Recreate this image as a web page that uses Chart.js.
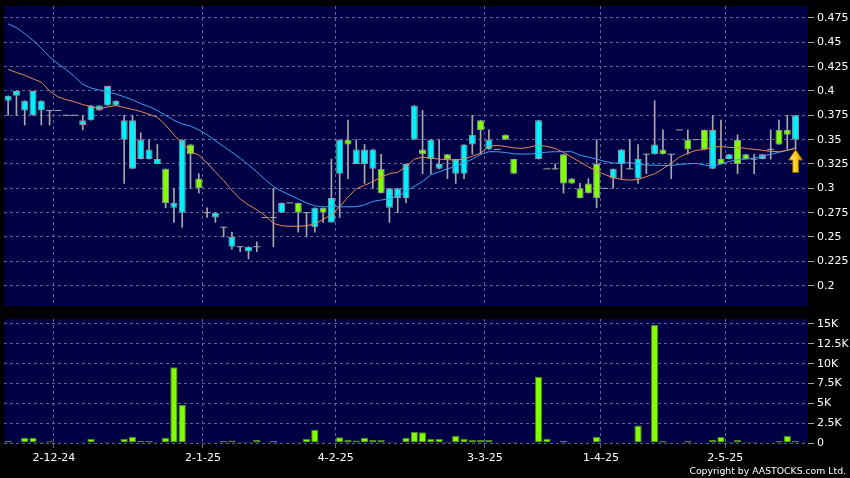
<!DOCTYPE html>
<html>
<head>
<meta charset="utf-8">
<script src="https://cdn.jsdelivr.net/npm/chart.js@4.4.1/dist/chart.umd.min.js"></script>
<style>
  html, body { margin: 0; padding: 0; background: #000; }
  #wrap { position: relative; width: 850px; height: 478px; overflow: hidden; background: #000; }
  #price { position: absolute; left: 0; top: 0; }
  #volume { position: absolute; left: 0; top: 310px; }
  #copy { position: absolute; right: 4px; top: 465px; color: #fff; font: 9.3px "DejaVu Sans", sans-serif; white-space: nowrap; }
</style>
</head>
<body>
<div id="wrap">
  <canvas id="price" width="850" height="310"></canvas>
  <canvas id="volume" width="850" height="168"></canvas>
  <div id="copy">Copyright by AASTOCKS.com Ltd.</div>
</div>
<script>
// 96 trading sessions, one empty slot at the right edge
const slotCount = 97;
const dateTicks = { 6: "2-12-24", 24: "2-1-25", 40: "4-2-25", 58: "3-3-25", 72: "1-4-25", 87: "2-5-25" };
const priceTicks = [0.2, 0.225, 0.25, 0.275, 0.3, 0.325, 0.35, 0.375, 0.4, 0.425, 0.45, 0.475];
const volumeTicks = [0, 2500, 5000, 7500, 10000, 12500, 15000];

const opens = [
  0.395, 0.40, 0.39, 0.40, 0.39, 0.38, 0.38, 0.375, 0.375, 0.37,
  0.385, 0.385, 0.405, 0.39, 0.37, 0.37, 0.35, 0.34, 0.33, 0.285,
  0.285, 0.35, 0.335, 0.30, 0.275, 0.275, 0.26, 0.25, 0.24, 0.24,
  0.24, 0.27, 0.27, 0.285, 0.285, 0.275, 0.275, 0.28, 0.275, 0.29,
  0.35, 0.345, 0.34, 0.34, 0.34, 0.295, 0.30, 0.30, 0.325, 0.385,
  0.335, 0.35, 0.325, 0.33, 0.33, 0.345, 0.355, 0.36, 0.35, 0.34,
  0.35, 0.315, null, null, 0.37, 0.32, 0.32, 0.305, 0.305, 0.29,
  0.295, 0.29, 0.30, 0.32, 0.34, 0.32, 0.33, 0.335, 0.345, 0.335,
  0.335, 0.36, 0.34, 0.35, 0.34, 0.36, 0.325, 0.335, 0.325, 0.33,
  0.33, 0.335, 0.34, 0.345, 0.355, 0.375
];
const highs = [
  0.395, 0.40, 0.39, 0.40, 0.39, 0.38, 0.38, 0.375, 0.375, 0.375,
  0.385, 0.385, 0.405, 0.39, 0.375, 0.375, 0.357, 0.35, 0.345, 0.32,
  0.30, 0.35, 0.345, 0.315, 0.28, 0.275, 0.26, 0.255, 0.24, 0.24,
  0.245, 0.27, 0.30, 0.285, 0.285, 0.285, 0.275, 0.28, 0.28, 0.33,
  0.35, 0.37, 0.35, 0.345, 0.34, 0.335, 0.30, 0.30, 0.325, 0.385,
  0.38, 0.35, 0.35, 0.335, 0.33, 0.345, 0.375, 0.37, 0.36, 0.34,
  0.355, 0.33, null, null, 0.37, 0.32, 0.325, 0.335, 0.31, 0.305,
  0.31, 0.35, 0.30, 0.32, 0.34, 0.35, 0.345, 0.335, 0.39, 0.36,
  0.335, 0.36, 0.36, 0.35, 0.36, 0.375, 0.37, 0.335, 0.355, 0.335,
  0.335, 0.335, 0.36, 0.37, 0.375, 0.375
];
const lows = [
  0.375, 0.375, 0.365, 0.375, 0.365, 0.365, 0.38, 0.375, 0.375, 0.36,
  0.37, 0.38, 0.385, 0.385, 0.305, 0.32, 0.33, 0.33, 0.325, 0.28,
  0.265, 0.26, 0.30, 0.295, 0.27, 0.265, 0.25, 0.2375, 0.235, 0.2275,
  0.235, 0.27, 0.24, 0.275, 0.285, 0.255, 0.25, 0.255, 0.265, 0.265,
  0.27, 0.31, 0.325, 0.305, 0.30, 0.295, 0.265, 0.275, 0.285, 0.35,
  0.315, 0.315, 0.32, 0.31, 0.305, 0.31, 0.335, 0.335, 0.34, 0.34,
  0.35, 0.315, null, null, 0.33, 0.32, 0.32, 0.295, 0.305, 0.29,
  0.295, 0.28, 0.30, 0.30, 0.31, 0.32, 0.305, 0.315, 0.335, 0.335,
  0.31, 0.36, 0.335, 0.35, 0.34, 0.32, 0.325, 0.33, 0.315, 0.33,
  0.315, 0.33, 0.33, 0.345, 0.34, 0.34
];
const closes = [
  0.39, 0.395, 0.38, 0.375, 0.38, 0.38, 0.38, 0.375, 0.375, 0.365,
  0.37, 0.38, 0.385, 0.385, 0.35, 0.32, 0.33, 0.33, 0.325, 0.32,
  0.28, 0.275, 0.345, 0.31, 0.275, 0.27, 0.26, 0.24, 0.24, 0.235,
  0.24, 0.27, 0.27, 0.275, 0.285, 0.285, 0.275, 0.26, 0.28, 0.265,
  0.315, 0.35, 0.325, 0.325, 0.32, 0.32, 0.28, 0.29, 0.29, 0.35,
  0.34, 0.33, 0.32, 0.335, 0.315, 0.315, 0.345, 0.37, 0.34, 0.34,
  0.355, 0.33, null, null, 0.33, 0.32, 0.32, 0.335, 0.31, 0.30,
  0.305, 0.325, 0.30, 0.31, 0.325, 0.32, 0.31, 0.335, 0.335, 0.34,
  0.335, 0.36, 0.35, 0.35, 0.36, 0.32, 0.33, 0.33, 0.35, 0.335,
  0.33, 0.33, 0.34, 0.36, 0.36, 0.35
];
const volumes = [
  290, 100, 670, 670, 170, 210, 0, 0, 0, 50,
  550, 40, 170, 40, 550, 750, 290, 250, 40, 670,
  9550, 4800, 80, 100, 80, 80, 290, 330, 120, 170,
  420, 0, 250, 80, 40, 120, 550, 1680, 40, 40,
  710, 420, 330, 670, 420, 420, 170, 40, 670, 1380,
  1360, 500, 500, 170, 920, 550, 380, 380, 380, 0,
  40, 120, 0, 0, 8340, 550, 0, 290, 40, 30,
  40, 750, 0, 40, 80, 80, 2200, 0, 14900, 250,
  0, 0, 290, 0, 50, 420, 750, 120, 380, 120,
  120, 80, 0, 250, 880, 250
];
// moving averages
const maShort = [
  0.422, 0.419, 0.416, 0.4125, 0.409, 0.400, 0.394, 0.391, 0.389, 0.386,
  0.384, 0.382, 0.3835, 0.385, 0.383, 0.381, 0.379, 0.376, 0.373, 0.365,
  0.355, 0.346, 0.338, 0.334, 0.326, 0.317, 0.308, 0.298, 0.289, 0.283,
  0.278, 0.272, 0.264, 0.2615, 0.261, 0.261, 0.2615, 0.2635, 0.268, 0.273,
  0.281, 0.291, 0.2995, 0.303, 0.307, 0.3115, 0.315, 0.3165, 0.322, 0.330,
  0.332, 0.331, 0.330, 0.3295, 0.329, 0.330, 0.333, 0.336, 0.3435, 0.344,
  0.343, 0.3415, 0.341, 0.3425, 0.3445, 0.343, 0.341, 0.337, 0.332, 0.327,
  0.322, 0.318, 0.314, 0.311, 0.309, 0.3085, 0.309, 0.312, 0.315, 0.320,
  0.326, 0.332, 0.336, 0.339, 0.340, 0.342, 0.343, 0.342, 0.342, 0.341,
  0.340, 0.339, 0.338, 0.3376, 0.339, 0.341
];
const maLong = [
  0.469, 0.465, 0.459, 0.452, 0.444, 0.435, 0.428, 0.422, 0.415, 0.407,
  0.403, 0.401, 0.399, 0.397, 0.394, 0.391, 0.387, 0.384, 0.380, 0.375,
  0.370, 0.366, 0.364, 0.360, 0.355, 0.349, 0.343, 0.337, 0.331, 0.324,
  0.317, 0.309, 0.302, 0.297, 0.293, 0.289, 0.285, 0.282, 0.281, 0.281,
  0.281, 0.281, 0.2812, 0.283, 0.2865, 0.288, 0.289, 0.292, 0.297, 0.302,
  0.307, 0.314, 0.317, 0.320, 0.3225, 0.326, 0.330, 0.335, 0.3376, 0.3376,
  0.3368, 0.3355, 0.3352, 0.3352, 0.336, 0.3372, 0.3376, 0.3376, 0.3376, 0.334,
  0.332, 0.330, 0.3275, 0.326, 0.3258, 0.3265, 0.325, 0.324, 0.3237, 0.3235,
  0.3233, 0.3245, 0.3252, 0.3256, 0.324, 0.3225, 0.325, 0.3275, 0.3295, 0.330,
  0.331, 0.333, 0.335, 0.337, 0.339, 0.3415
];
const signalIndex = 95;
const signalPrice = 0.328;

const labels = Array.from({ length: slotCount }, (_, i) => dateTicks[i] || "");

const UP = "#80ff00", DOWN = "#00f0ff";
const GRID = "#62629a";
const PLOT_BG = "#000044";

Chart.defaults.font.family = "DejaVu Sans";
Chart.defaults.font.size = 11;
Chart.defaults.color = "#ffffff";

const plotBg = {
  id: "plotBg",
  beforeDraw(chart) {
    const { ctx, chartArea: a } = chart;
    ctx.save();
    ctx.fillStyle = PLOT_BG;
    ctx.fillRect(a.left, a.top, a.right - a.left, a.bottom - a.top);
    ctx.restore();
  }
};

function makeArrow() {
  const c = document.createElement("canvas");
  c.width = 15; c.height = 24;
  const g = c.getContext("2d");
  const grad = g.createLinearGradient(0, 0, 15, 0);
  grad.addColorStop(0, "#fff3a0");
  grad.addColorStop(0.5, "#ffd21f");
  grad.addColorStop(1, "#d99000");
  g.beginPath();
  g.moveTo(7.5, 0.5); g.lineTo(14.5, 11); g.lineTo(10.5, 11); g.lineTo(10.5, 23.5);
  g.lineTo(4.5, 23.5); g.lineTo(4.5, 11); g.lineTo(0.5, 11); g.closePath();
  g.fillStyle = grad; g.fill();
  g.strokeStyle = "#8a5a00"; g.lineWidth = 1; g.stroke();
  return c;
}

const bodies = opens.map((o, i) => (o == null || o === closes[i]) ? null : [Math.min(o, closes[i]), Math.max(o, closes[i])]);
const wicks = highs.map((h, i) => (h == null || h === lows[i]) ? null : [lows[i], h]);
const dojis = opens.map((o, i) => (o != null && o === closes[i]) ? o : null);
const signal = labels.map((_, i) => i === signalIndex ? signalPrice : null);

const gridColor = c => labels[c.index] ? GRID : "transparent";
// fixed axis width, no extra padding for the edge labels
const fitY = s => { s.width = 42; s.paddingTop = 0; s.paddingBottom = 0; };
const setTicks = values => s => { s.ticks = values.map(v => ({ value: v })); };

new Chart(document.getElementById("price"), {
  type: "bar",
  data: {
    labels: labels,
    datasets: [
      { type: "line", data: signal, showLine: false, pointStyle: makeArrow(), pointRadius: 8, order: -1 },
      { type: "line", data: maShort, borderColor: "#e88a50", borderWidth: 1, pointRadius: 0, order: 0 },
      { type: "line", data: maLong, borderColor: "#3aa0f0", borderWidth: 1, pointRadius: 0, order: 0 },
      {
        data: bodies, grouped: false, order: 1,
        backgroundColor: c => closes[c.dataIndex] > opens[c.dataIndex] ? UP : DOWN,
        borderColor: "#8f9a9a", borderWidth: 1, borderSkipped: false,
        barPercentage: 0.85, categoryPercentage: 1
      },
      { type: "line", data: dojis, showLine: false, pointStyle: "line", pointRadius: 3.5, borderColor: "#a8a8a8", borderWidth: 1, order: 2 },
      { data: wicks, grouped: false, order: 3, backgroundColor: "#a8a8a8", barThickness: 1 }
    ]
  },
  options: {
    responsive: false,
    animation: false,
    layout: { autoPadding: false, padding: { left: 4, top: 6, right: 0, bottom: 4 } },
    plugins: { legend: { display: false }, tooltip: { enabled: false } },
    scales: {
      x: {
        offset: true,
        ticks: { display: false, autoSkip: false },
        grid: { offset: true, color: gridColor, drawTicks: false },
        border: { display: false, dash: [3, 3] },
        afterFit: s => { s.height = 0; }
      },
      y: {
        position: "right",
        min: 0.1791, max: 0.4873,
        afterBuildTicks: setTicks(priceTicks),
        ticks: { padding: 3, callback: v => String(+v.toFixed(3)) },
        grid: { color: GRID, tickColor: "#a0a0a0", tickLength: 6 },
        border: { display: false, dash: [3, 3] },
        afterFit: fitY
      }
    }
  },
  plugins: [plotBg]
});

new Chart(document.getElementById("volume"), {
  type: "bar",
  data: {
    labels: labels,
    datasets: [{
      data: volumes, backgroundColor: UP, borderColor: "#4f7f2a", borderWidth: 1,
      borderSkipped: false, barPercentage: 0.88, categoryPercentage: 1
    }]
  },
  options: {
    responsive: false,
    animation: false,
    layout: { autoPadding: false, padding: { left: 4, top: 9, right: 0, bottom: 0 } },
    plugins: { legend: { display: false }, tooltip: { enabled: false } },
    scales: {
      x: {
        offset: true,
        ticks: { autoSkip: false, maxRotation: 0, padding: 4, labelOffset: -4 },
        grid: { offset: true, color: gridColor, tickColor: gridColor, tickLength: 5 },
        border: { display: false, dash: [3, 3] },
        afterFit: s => { s.height = 35; }
      },
      y: {
        position: "right",
        min: 0, max: 15630,
        afterBuildTicks: setTicks(volumeTicks),
        ticks: { padding: 3, callback: v => v === 0 ? "0" : (v / 1000) + "K" },
        grid: { color: GRID, tickColor: "#a0a0a0", tickLength: 6 },
        border: { display: false, dash: [3, 3] },
        afterFit: fitY
      }
    }
  },
  plugins: [plotBg]
});
</script>
</body>
</html>
